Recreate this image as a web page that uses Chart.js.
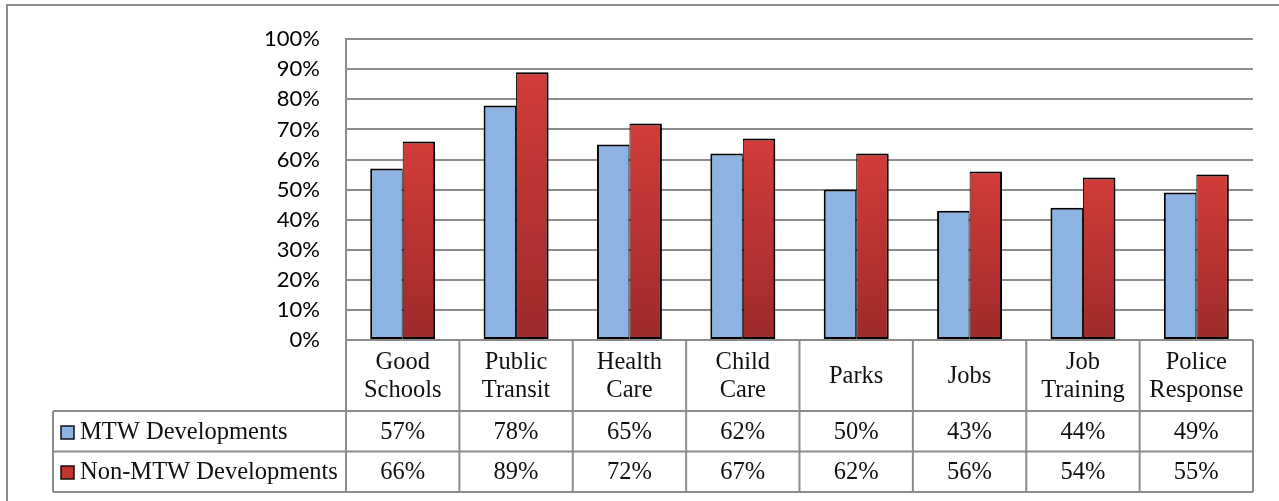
<!DOCTYPE html>
<html>
<head>
<meta charset="utf-8">
<style>
  html, body { margin: 0; padding: 0; background: #ffffff; }
  #wrap { width: 1279px; height: 501px; }
  canvas { display: block; }
</style>
<script src="https://cdn.jsdelivr.net/npm/chart.js@4/dist/chart.umd.min.js"></script>
</head>
<body>
<div id="wrap"><canvas id="chart" width="1279" height="501"></canvas></div>
<script>
// Survey categories (header row of the data table)
const categories = [
  ['Good', 'Schools'], ['Public', 'Transit'], ['Health', 'Care'], ['Child', 'Care'],
  ['Parks'], ['Jobs'], ['Job', 'Training'], ['Police', 'Response']
];
// Share of respondents (%)
const mtwValues    = [57, 78, 65, 62, 50, 43, 44, 49];
const nonMtwValues = [66, 89, 72, 67, 62, 56, 54, 55];
const seriesNames  = ['MTW Developments', 'Non-MTW Developments'];
// Value axis ticks (%)
const yTicks = [0, 10, 20, 30, 40, 50, 60, 70, 80, 90, 100];

const GRID = '#8c8c8c';
const TABLE_FONT = '24.5px "Liberation Serif", serif';

// Vertical gradient for the red series, computed per bar
function redGradient(ctx) {
  const chart = ctx.chart;
  const y = chart.scales.y;
  if (!y || !chart.chartArea || typeof ctx.raw !== 'number') return '#c33533';
  const top = y.getPixelForValue(ctx.raw);
  const bottom = y.getPixelForValue(0);
  if (!isFinite(top) || !isFinite(bottom) || top === bottom) return '#c33533';
  const g = chart.ctx.createLinearGradient(0, top, 0, bottom);
  g.addColorStop(0, '#d23c39');
  g.addColorStop(1, '#9d2a2a');
  return g;
}

// Soft drop shadow behind bars
const barShadow = {
  id: 'barShadow',
  beforeDatasetsDraw(chart) {
    const c = chart.ctx;
    c.save();
    c.shadowColor = 'rgba(0,0,0,0.28)';
    c.shadowBlur = 4;
    c.shadowOffsetX = 2;
    c.shadowOffsetY = 2;
  },
  afterDatasetsDraw(chart) { chart.ctx.restore(); }
};

// Data table under the plot plus outer chart frame
const dataTable = {
  id: 'dataTable',
  afterDraw(chart) {
    const { ctx, chartArea: a } = chart;
    const x = chart.scales.x;
    const n = categories.length;
    const colW = (a.right - a.left) / n;
    const headTop = a.bottom;
    const headBot = headTop + 71;
    const rowH = 40.5;
    const legLeft = 53;
    const rowBots = [headBot + rowH, headBot + 2 * rowH];

    ctx.save();
    ctx.strokeStyle = GRID;
    ctx.lineWidth = 2;
    const line = (x1, y1, x2, y2) => { ctx.beginPath(); ctx.moveTo(x1, y1); ctx.lineTo(x2, y2); ctx.stroke(); };

    line(a.left, headTop, a.right, headTop);
    line(legLeft, headBot, a.right, headBot);
    rowBots.forEach(yb => line(legLeft, yb, a.right, yb));
    for (let i = 0; i <= n; i++) {
      const xx = a.left + i * colW;
      line(xx, headTop, xx, rowBots[1]);
    }
    line(legLeft, headBot, legLeft, rowBots[1]);

    // Header labels
    ctx.fillStyle = '#111';
    ctx.font = TABLE_FONT;
    ctx.textAlign = 'center';
    ctx.textBaseline = 'middle';
    const headMid = (headTop + headBot) / 2 + 1;
    categories.forEach((lines, i) => {
      const cx = x.getPixelForValue(i);
      const lh = 28;
      lines.forEach((t, k) => {
        const cy = headMid + (k - (lines.length - 1) / 2) * lh;
        ctx.fillText(t, cx, cy);
      });
    });

    // Value rows with legend keys
    chart.data.datasets.forEach((ds, r) => {
      const top = headBot + r * rowH;
      const cy = top + rowH / 2 + 1;
      const sq = 13;
      const sx = 61, sy = Math.round(cy - sq / 2);
      ctx.fillStyle = ds.keyColor;
      ctx.fillRect(sx, sy, sq, sq);
      ctx.strokeStyle = '#111';
      ctx.lineWidth = 1.5;
      ctx.strokeRect(sx, sy, sq, sq);
      ctx.fillStyle = '#111';
      ctx.textAlign = 'left';
      ctx.fillText(ds.label, 80, cy);
      ctx.textAlign = 'center';
      ds.data.forEach((v, i) => {
        ctx.fillText(v + '%', x.getPixelForValue(i), cy);
      });
    });

    // Outer frame
    ctx.strokeStyle = GRID;
    ctx.lineWidth = 2;
    ctx.strokeRect(7, 5, 1400, 700);
    ctx.restore();
  }
};

new Chart(document.getElementById('chart'), {
  type: 'bar',
  data: {
    labels: categories,
    datasets: [
      {
        label: seriesNames[0],
        data: mtwValues,
        backgroundColor: '#8db3e2',
        keyColor: '#8db3e2',
        borderColor: '#000',
        borderWidth: { top: 2, left: 2, bottom: 2, right: 1 },
        borderSkipped: false
      },
      {
        label: seriesNames[1],
        data: nonMtwValues,
        backgroundColor: redGradient,
        keyColor: '#c0332f',
        borderColor: '#000',
        borderWidth: { top: 2, left: 1, bottom: 2, right: 2 },
        borderSkipped: false
      }
    ]
  },
  options: {
    responsive: false,
    devicePixelRatio: 1,
    animation: false,
    events: [],
    layout: { padding: { left: 0, right: 26, top: 35, bottom: 161 } },
    plugins: { legend: { display: false }, tooltip: { enabled: false }, title: { display: false } },
    datasets: { bar: { categoryPercentage: 0.573, barPercentage: 1 } },
    scales: {
      x: { display: false },
      y: {
        min: 0,
        max: 100,
        afterFit(scale) { scale.width = 346; },
        afterBuildTicks(scale) { scale.ticks = yTicks.map(v => ({ value: v })); },
        border: { display: true, color: GRID, width: 2 },
        grid: { color: GRID, lineWidth: 2, drawTicks: false },
        ticks: {
          padding: 26,
          color: '#000',
          font: { family: 'Lato', size: 22 },
          callback: v => v + '%'
        }
      }
    }
  },
  plugins: [barShadow, dataTable]
});
</script>
</body>
</html>
